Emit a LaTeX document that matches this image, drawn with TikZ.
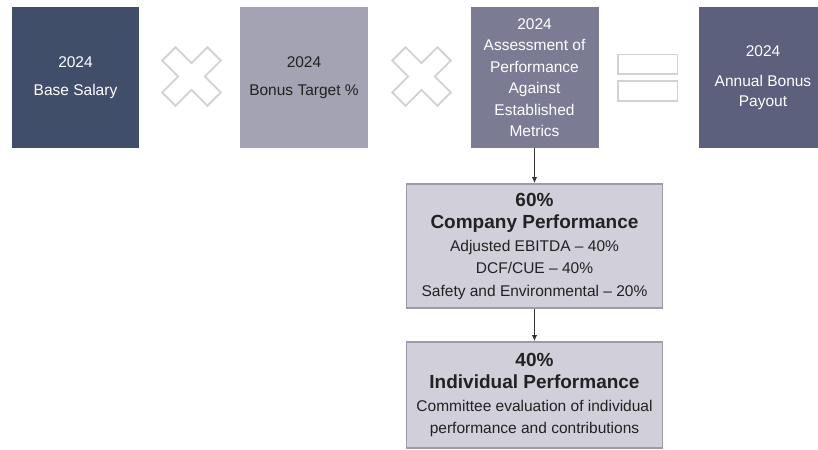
\documentclass[tikz,border=0pt]{standalone}
\usepackage{fontspec}
\setmainfont{Liberation Sans}
\usetikzlibrary{arrows.meta}
\definecolor{cnavy}{HTML}{414E6A}
\definecolor{clav}{HTML}{A4A3B4}
\definecolor{cmid}{HTML}{7C7B94}
\definecolor{cslate}{HTML}{5C607C}
\definecolor{clight}{HTML}{D0CFDA}
\definecolor{cborder}{HTML}{9C9BAD}
\definecolor{csym}{HTML}{D2D2D2}
\definecolor{ctext}{HTML}{222222}
\definecolor{carrow}{HTML}{333333}
\tikzset{
  topbox/.style={rectangle, minimum width=128bp, minimum height=141bp, inner sep=0pt,
    align=center, font=\fontsize{15.5bp}{21.5bp}\selectfont},
  lowbox/.style={rectangle, draw=cborder, line width=1.8bp, fill=clight, text=ctext,
    minimum width=256bp, inner sep=0pt, align=center,
    font=\fontsize{15.5bp}{22.5bp}\selectfont},
  symline/.style={draw=csym, line width=1.8bp, line join=miter},
  conn/.style={draw=carrow, line width=1.2bp, -{Latex[length=6bp,width=5.5bp]}}
}
\newcommand{\bigline}[1]{{\fontsize{19bp}{22.5bp}\selectfont\bfseries #1}}
\begin{document}
\begin{tikzpicture}[x=1bp,y=-1bp]
\path[use as bounding box, clip] (0,0) rectangle (818,450);
\fill[white] (0,0) rectangle (818,450);
% top boxes
\node[topbox, fill=cnavy, text=white, minimum width=127bp] (b1) at (75.5,77.5) {2024\\[6.5bp]Base Salary};
\node[topbox, fill=clav, text=ctext] (b2) at (304,77.5) {2024\\[6.5bp]Bonus Target \%};
\node[topbox, fill=cmid, text=white] (b3) at (534.5,77.5) {2024\\Assessment of\\Performance\\Against\\Established\\Metrics};
\node[topbox, fill=cslate, text=white] (b4) at (763,77.5) {2024\\[8bp]Annual Bonus\\[-1.5bp]Payout};
% multiplication crosses
\foreach \cx/\cy in {191.5/76.5, 421.5/76.5} {
  \draw[symline, shift={(\cx,\cy)}, rotate=45]
    (9.5,-9.5) -- (32,-9.5) -- (32,9.5) -- (9.5,9.5) -- (9.5,32) -- (-9.5,32) -- (-9.5,9.5)
    -- (-32,9.5) -- (-32,-9.5) -- (-9.5,-9.5) -- (-9.5,-32) -- (9.5,-32) -- cycle;
}
% equals sign
\draw[symline] (618,54.5) rectangle (677.5,74);
\draw[symline] (618,81) rectangle (677.5,101);
% lower boxes
\node[lowbox, minimum height=124bp] (comp) at (534.5,246)
  {\bigline{60\%}\\\bigline{Company Performance}\\Adjusted EBITDA -- 40\%\\DCF/CUE -- 40\%\\Safety and Environmental -- 20\%};
\node[lowbox, minimum height=106bp] (indiv) at (534.5,395)
  {\bigline{40\%}\\\bigline{Individual Performance}\\Committee evaluation of individual\\performance and contributions};
% connectors
\draw[conn] (b3.south) -- (comp.north);
\draw[conn] (comp.south) -- (indiv.north);
\end{tikzpicture}
\end{document}
